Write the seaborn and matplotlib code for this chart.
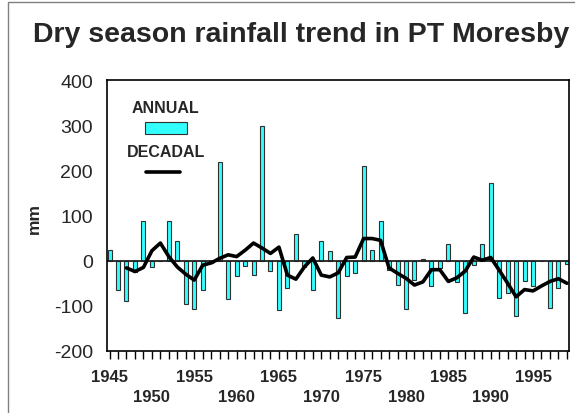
import matplotlib
matplotlib.use("Agg")
import matplotlib.pyplot as plt
from matplotlib.patches import Rectangle
from matplotlib.lines import Line2D
import seaborn as sns

# === DATA (dry season rainfall anomaly, mm) ===
years = list(range(1945, 2000))
annual = [24, -64, -89, -26, 88, -15, 0, 88, 43, -95,
          -107, -64, -5, 219, -86, -35, -11, -32, 299, -23,
          -110, -60, 60, -13, -66, 44, 21, -126, -35, -27,
          210, 24, 88, -20, -54, -107, -43, 3, -57, -16,
          38, -47, -117, -10, 38, 171, -82, -71, -122, -45,
          -55, 0, -104, -60, -7]

decadal_years = list(range(1947, 2000))
decadal = [-16, -24, -15, 22, 39, 9, -14, -30,
           -43, -10, -5, 5, 13, 9, 23, 39, 28, 16,
           30, -32, -41, -14, 6, -32, -36, -27, 7, 8,
           49, 49, 45, -16, -28, -39, -54, -47, -20, -20,
           -46, -38, -23, 8, 1, 7, -21, -50, -80, -64,
           -67, -56, -46, -40, -50]

y_ticks = [-200, -100, 0, 100, 200, 300, 400]
title = "Dry season rainfall trend in PT Moresby"

# === STYLE ===
sns.set_style("ticks")
plt.rcParams["font.family"] = ["Liberation Sans", "DejaVu Sans"]
bar_color = "#33ffff"

fig = plt.figure(figsize=(5.75, 4.14), dpi=100)
ax = fig.add_axes([0.1861, 0.1498, 0.8035, 0.6545])

sns.barplot(x=years, y=annual, native_scale=True, width=0.47,
            color=bar_color, saturation=1, edgecolor="#303030",
            linewidth=0.8, errorbar=None, ax=ax, zorder=2)
ax.axhline(0, color="#202020", lw=1.3, zorder=2.5)
sns.lineplot(x=decadal_years, y=decadal, color="black", lw=2.6,
             ax=ax, zorder=3, solid_joinstyle="round", solid_capstyle="round")

ax.set_xlim(1944.7, 1999.25)
ax.set_ylim(-200, 400)

# x ticks every year, labels every 5 years on two rows
xlabels = []
for yr in years:
    if yr % 10 == 5:
        xlabels.append(str(yr))
    elif yr % 10 == 0:
        xlabels.append("\n" + str(yr))
    else:
        xlabels.append("")
ax.set_xticks(years)
ax.set_xticklabels(xlabels, fontsize=12, fontweight="bold", linespacing=1.45)
ax.tick_params(axis="x", direction="out", length=5.8, width=1, color="black", pad=7)

ax.set_yticks(y_ticks)
ax.set_yticklabels([str(v) for v in y_ticks], fontsize=14)
ax.tick_params(axis="y", length=0, pad=10)

ax.set_xlabel("")
ax.set_ylabel("mm", fontsize=12.5, fontweight="bold")
ax.yaxis.set_label_coords(-0.14, 0.494)

for s in ax.spines.values():
    s.set_visible(True)
    s.set_color("black")
    s.set_linewidth(1.2)

# legend drawn in axes space: label above each sample
ax.text(0.1255, 0.900, "ANNUAL", transform=ax.transAxes, ha="center", va="center",
        fontsize=11.5, fontweight="bold")
ax.add_patch(Rectangle((0.0823, 0.8007), 0.0909, 0.0443, transform=ax.transAxes,
                       facecolor=bar_color, edgecolor="#303030", lw=0.8))
ax.text(0.1277, 0.738, "DECADAL", transform=ax.transAxes, ha="center", va="center",
        fontsize=11.5, fontweight="bold")
ax.add_line(Line2D([0.0844, 0.158], [0.6605, 0.6605], transform=ax.transAxes,
                   color="black", lw=2.6))

fig.text(0.5235, 0.915, title, ha="center", va="center", fontsize=20.5, fontweight="bold")

# outer chart frame
fig.patches.append(Rectangle((8 / 575, -0.1), 1.2, 0.1 + 1 - 3 / 414, transform=fig.transFigure,
                             fill=False, edgecolor="#808080", lw=1))

fig.savefig("out.png", dpi=100)
